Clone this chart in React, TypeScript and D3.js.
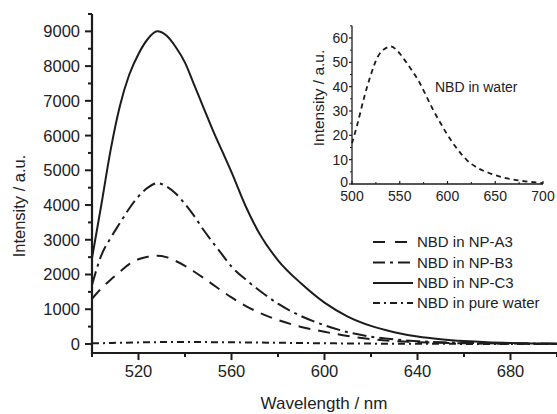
import React from "react";
import * as d3 from "d3";

const mainWavelengths = [500, 504, 508, 512, 516, 520, 524, 528, 532, 536, 540, 544, 548, 552, 556, 560, 566, 572, 580, 590, 600, 610, 620, 630, 640, 650, 660, 670, 680, 690, 700];
const npA3 = [1300, 1600, 1850, 2080, 2300, 2440, 2510, 2540, 2500, 2390, 2250, 2080, 1900, 1710, 1520, 1340, 1100, 900, 690, 490, 350, 230, 140, 85, 52, 32, 20, 12, 8, 5, 4];
const npB3 = [1700, 2550, 3050, 3480, 3900, 4250, 4500, 4630, 4540, 4330, 4030, 3680, 3280, 2920, 2570, 2230, 1860, 1540, 1160, 800, 540, 340, 210, 130, 80, 50, 30, 20, 14, 10, 8];
const npC3 = [2470, 4000, 5580, 6850, 7750, 8350, 8780, 9000, 8880, 8550, 8100, 7450, 6800, 6150, 5550, 4950, 3980, 3180, 2410, 1740, 1190, 790, 520, 340, 215, 135, 82, 48, 28, 16, 10];

const waterWavelengths = [500, 505, 512, 519, 527, 534, 541, 548, 555, 563, 571, 578, 585, 592, 599, 610, 620, 632, 645, 658, 672, 686, 700];
const waterValues = [16.7, 23.6, 34.5, 44, 52.3, 55.5, 56.5, 54.5, 51, 46.5, 41.5, 36, 30.4, 25.5, 20.8, 14.5, 9.9, 6.5, 4.3, 2.7, 1.6, 0.9, 0.4];

const mainXTicks = [520, 560, 600, 640, 680];
const mainYTicks = [0, 1000, 2000, 3000, 4000, 5000, 6000, 7000, 8000, 9000];
const insetXTicks = [500, 550, 600, 650, 700];
const insetYTicks = [0, 10, 20, 30, 40, 50, 60];

const legendLabels = ["NBD in NP-A3", "NBD in NP-B3", "NBD in NP-C3", "NBD in pure water"];

const FONT = "'Liberation Sans', Arial, Helvetica, sans-serif";
const INK = "#1c1c1c";
const TEXT = "#222";

export default function App() {
  const x = d3.scaleLinear().domain([500, 700]).range([92, 557]);
  const y = d3.scaleLinear().domain([-260, 9500]).range([353, 14]);
  const ix = d3.scaleLinear().domain([500, 700]).range([352, 543]);
  const iy = d3.scaleLinear().domain([0, 65]).range([184, 25.8]);

  const mainLine = d3
    .line<[number, number]>()
    .x((d) => x(d[0]))
    .y((d) => y(d[1]))
    .curve(d3.curveMonotoneX);
  const insetLine = d3
    .line<[number, number]>()
    .x((d) => ix(d[0]))
    .y((d) => iy(d[1]))
    .curve(d3.curveMonotoneX);

  const zip = (a: number[], b: number[]) => a.map((v, i) => [v, b[i]] as [number, number]);

  const series = [
    { label: legendLabels[0], path: mainLine(zip(mainWavelengths, npA3)), dash: "12,8", legendDash: "12,10" },
    { label: legendLabels[1], path: mainLine(zip(mainWavelengths, npB3)), dash: "14,5,3,5", legendDash: "12,5,3,5" },
    { label: legendLabels[2], path: mainLine(zip(mainWavelengths, npC3)), dash: "none", legendDash: "none" },
    { label: legendLabels[3], path: mainLine(zip(waterWavelengths, waterValues)), dash: "7,4,2,4", legendDash: "7,4,2,4" },
  ];

  const xMinor = d3.range(500, 701, 20).filter((v) => !mainXTicks.includes(v));
  const yMinor = d3.range(0, 9501, 500).filter((v) => !mainYTicks.includes(v));
  const ixMinor = d3.range(500, 701, 25).filter((v) => !insetXTicks.includes(v));
  const iyMinor = d3.range(0, 66, 5).filter((v) => !insetYTicks.includes(v));

  const legendY = [242, 262.5, 283, 303];

  return (
    <svg
      width={557}
      height={414}
      style={{ position: "absolute", left: 0, top: 0, background: "#fff" }}
      fontFamily={FONT}
    >
      {series.map((s, i) => (
        <path
          key={i}
          d={s.path || ""}
          fill="none"
          stroke={INK}
          strokeWidth={2}
          strokeDasharray={s.dash}
        />
      ))}

      <line x1={92} x2={92} y1={y(9500)} y2={354} stroke={INK} strokeWidth={2.2} />
      <line x1={91} x2={557} y1={353} y2={353} stroke={INK} strokeWidth={2.2} />
      {mainYTicks.map((t) => (
        <g key={t}>
          <line x1={85} x2={92} y1={y(t)} y2={y(t)} stroke={INK} strokeWidth={2} />
          <text x={80} y={y(t)} dy="0.36em" textAnchor="end" fontSize={16.5} fill={TEXT}>
            {t}
          </text>
        </g>
      ))}
      {yMinor.map((t) => (
        <line key={t} x1={88} x2={92} y1={y(t)} y2={y(t)} stroke={INK} strokeWidth={2} />
      ))}
      {mainXTicks.map((t) => (
        <g key={t}>
          <line x1={x(t)} x2={x(t)} y1={353} y2={360} stroke={INK} strokeWidth={2} />
          <text x={x(t)} y={377} textAnchor="middle" fontSize={16.5} fill={TEXT}>
            {t}
          </text>
        </g>
      ))}
      {xMinor.map((t) => (
        <line key={t} x1={x(t)} x2={x(t)} y1={353} y2={357} stroke={INK} strokeWidth={2} />
      ))}
      <text x={324} y={409} textAnchor="middle" fontSize={17} fill={TEXT}>
        Wavelength / nm
      </text>
      <text
        transform="translate(25,206) rotate(-90)"
        textAnchor="middle"
        fontSize={16.5}
        fill={TEXT}
      >
        Intensity / a.u.
      </text>

      {series.map((s, i) => (
        <g key={i}>
          <line
            x1={373}
            x2={413}
            y1={legendY[i]}
            y2={legendY[i]}
            stroke={INK}
            strokeWidth={2}
            strokeDasharray={s.legendDash}
          />
          <text x={417} y={legendY[i]} dy="0.36em" fontSize={15} fill={TEXT}>
            {s.label}
          </text>
        </g>
      ))}

      <path
        d={insetLine(zip(waterWavelengths, waterValues)) || ""}
        fill="none"
        stroke={INK}
        strokeWidth={1.8}
        strokeDasharray="5,4"
      />
      <line x1={352} x2={352} y1={iy(65)} y2={184.5} stroke={INK} strokeWidth={1.3} />
      <line x1={351.5} x2={543} y1={184} y2={184} stroke={INK} strokeWidth={1.3} />
      {insetYTicks.map((t) => (
        <g key={t}>
          <line x1={349} x2={352} y1={iy(t)} y2={iy(t)} stroke={INK} strokeWidth={1.2} />
          <text x={348} y={iy(t) - (t === 0 ? 2.5 : 0)} dy="0.36em" textAnchor="end" fontSize={14} fill={TEXT}>
            {t}
          </text>
        </g>
      ))}
      {iyMinor.map((t) => (
        <line key={t} x1={350} x2={352} y1={iy(t)} y2={iy(t)} stroke={INK} strokeWidth={1} />
      ))}
      {insetXTicks.map((t) => (
        <g key={t}>
          <line x1={ix(t)} x2={ix(t)} y1={184} y2={181} stroke={INK} strokeWidth={1.2} />
          <text x={ix(t)} y={201} textAnchor="middle" fontSize={14} fill={TEXT}>
            {t}
          </text>
        </g>
      ))}
      {ixMinor.map((t) => (
        <line key={t} x1={ix(t)} x2={ix(t)} y1={184} y2={182} stroke={INK} strokeWidth={1} />
      ))}
      <text
        transform="translate(324,98) rotate(-90)"
        textAnchor="middle"
        fontSize={15.5}
        fill={TEXT}
      >
        Intensity / a.u.
      </text>
      <text x={435} y={87} dy="0.36em" fontSize={14} fill={TEXT}>
        NBD in water
      </text>
    </svg>
  );
}
